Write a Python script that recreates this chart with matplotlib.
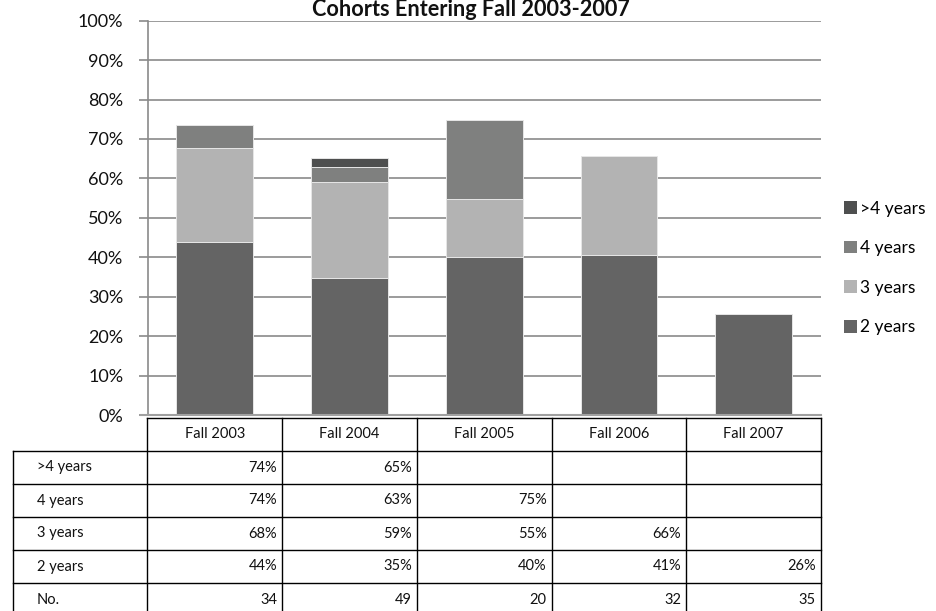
import matplotlib
matplotlib.use('Agg')
import matplotlib.pyplot as plt
from matplotlib.patches import Patch

# ---------------- data ----------------
categories = ['Fall 2003', 'Fall 2004', 'Fall 2005', 'Fall 2006', 'Fall 2007']
series_names = ['2 years', '3 years', '4 years', '>4 years']
# cumulative graduation rates (%); None = no data yet
cum_2y = [43.9, 34.7, 40.1, 40.6, 25.6]
cum_3y = [67.6, 59.1, 54.8, 65.7, None]
cum_4y = [73.5, 62.9, 74.8, None, None]
cum_gt4 = [73.5, 65.2, None, None, None]
cohort_n = [34, 49, 20, 32, 35]
yticks = [0, 10, 20, 30, 40, 50, 60, 70, 80, 90, 100]
title = 'Cohorts Entering Fall 2003-2007'

colors = ['#646464', '#b3b3b3', '#7f807f', '#4e4f4f']

FONT = ['Lato', 'DejaVu Sans']
plt.rcParams['font.family'] = FONT

W, H = 936, 611
fig = plt.figure(figsize=(W / 100, H / 100), dpi=100)

def fx(px):
    return px / W

def fy(py):
    return 1 - py / H

# ---------------- main chart ----------------
ax = fig.add_axes([fx(147.5), fy(415), fx(821) - fx(147.5), fy(20.7) - fy(415)])
ax.set_xlim(-0.5, len(categories) - 0.5)
ax.set_ylim(0, 100)

cums = [cum_2y, cum_3y, cum_4y, cum_gt4]
x = list(range(len(categories)))
prev = [0.0] * len(categories)
for s, (name, cum) in enumerate(zip(series_names, cums)):
    heights, bottoms, xs = [], [], []
    for i, v in enumerate(cum):
        if v is None:
            continue
        xs.append(x[i])
        bottoms.append(prev[i])
        heights.append(v - prev[i])
        prev[i] = v
    ax.bar(xs, heights, bottom=bottoms, width=0.57, color=colors[s],
           edgecolor='#e6e6e6', linewidth=0.7, zorder=3)

ax.set_yticks(yticks)
ax.set_yticklabels([f'{t}%' for t in yticks], fontsize=13, color='#111111')
ax.set_xticks([])
ax.grid(axis='y', color='#8a8a8a', linewidth=1.2, zorder=0)
for sp in ['top', 'right', 'bottom']:
    ax.spines[sp].set_visible(False)
ax.spines['left'].set_color('#8a8a8a')
ax.spines['left'].set_linewidth(1.2)
ax.tick_params(axis='y', length=6.5, width=1.2, color='#8a8a8a', pad=11)
# baseline extending to the left
ax.axhline(0, color='#a0a0a0', linewidth=1.5, xmin=-0.01, zorder=4, clip_on=False)

fig.text(0.503, fy(16.5), title, ha='center', va='baseline',
         fontsize=15.6, fontweight='bold', color='#111111')

handles = [Patch(facecolor=colors[i], edgecolor='none') for i in range(3, -1, -1)]
labels = [series_names[i] for i in range(3, -1, -1)]
fig.legend(handles, labels, loc='center left', bbox_to_anchor=(fx(844), fy(268)),
           frameon=False, fontsize=12.5, handlelength=0.75, handleheight=0.75,
           handletextpad=0.2, labelspacing=1.36, borderpad=0, borderaxespad=0)

# ---------------- data table ----------------
row_h = 33.0
n_rows = 6
tab = fig.add_axes([fx(12.7), fy(418 + row_h * n_rows), fx(821) - fx(12.7), fy(418) - fy(418 + row_h * n_rows)])
tab.set_xlim(-1.5, len(categories) - 0.5)
tab.set_ylim(n_rows, 0)
tab.axis('off')

lw = 1.0
lc = '#000000'
# header row (no left cell)
tab.plot([-0.5, len(categories) - 0.5], [0, 0], color=lc, lw=lw, clip_on=False)
for r in range(1, n_rows + 1):
    tab.plot([-1.5, len(categories) - 0.5], [r, r], color=lc, lw=lw, clip_on=False)
tab.plot([-1.5, -1.5], [1, n_rows], color=lc, lw=lw, clip_on=False)
for c in range(len(categories) + 1):
    tab.plot([c - 0.5, c - 0.5], [0, n_rows], color=lc, lw=lw, clip_on=False)

for i, cat in enumerate(categories):
    tab.text(i, 0.5, cat, ha='center', va='center', fontsize=10.5, color='#111111')

row_labels = ['>4 years', '4 years', '3 years', '2 years', 'No.']
row_vals = [cum_gt4, cum_4y, cum_3y, cum_2y]
for r, lab in enumerate(row_labels):
    yy = r + 1.5
    tab.text(-1.5 + 24 / 134.8, yy, lab, ha='left', va='center', fontsize=10.5, color='#111111')
    for i in range(len(categories)):
        if r < 4:
            v = row_vals[r][i]
            s = '' if v is None else f'{v:.0f}%'
        else:
            s = str(cohort_n[i])
        tab.text(i + 0.5 - 5 / 134.8, yy, s, ha='right', va='center', fontsize=10.5, color='#111111')

fig.savefig('out.png', dpi=100)
